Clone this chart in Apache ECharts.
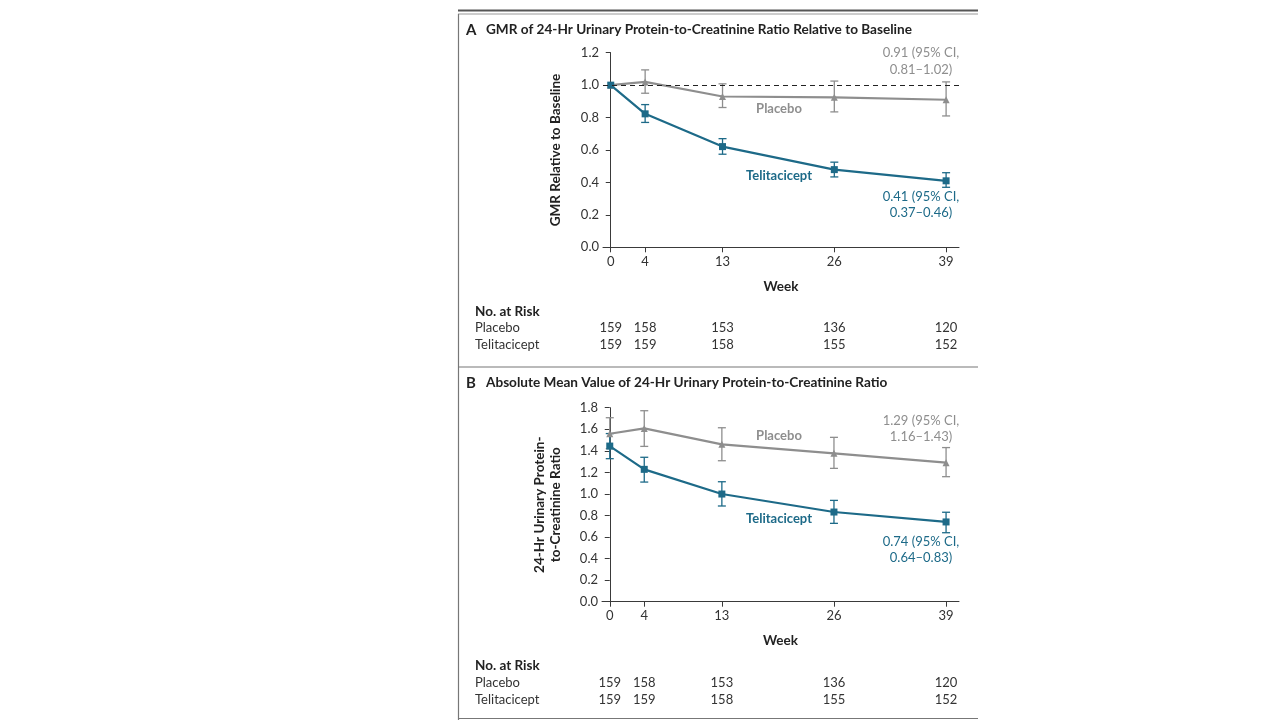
<!DOCTYPE html>
<html><head><meta charset="utf-8">
<script src="https://cdn.jsdelivr.net/npm/echarts@6/dist/echarts.min.js"></script>
<style>html,body{margin:0;padding:0;background:#fff}#c{width:1280px;height:720px}</style>
</head><body><div id="c"></div>
<script>
const weeks = [0, 4, 13, 26, 39];
// Panel A: GMR relative to baseline
const gmrPlacebo = [1.0, 1.02, 0.93, 0.925, 0.91];
const gmrPlaceboLo = [1.0, 0.95, 0.862, 0.835, 0.81];
const gmrPlaceboHi = [1.0, 1.094, 1.008, 1.025, 1.02];
const gmrTeli = [1.0, 0.823, 0.621, 0.479, 0.41];
const gmrTeliLo = [1.0, 0.77, 0.574, 0.434, 0.37];
const gmrTeliHi = [1.0, 0.88, 0.67, 0.525, 0.46];
// Panel B: absolute mean UPCR
const absPlacebo = [1.558, 1.608, 1.46, 1.377, 1.29];
const absPlaceboLo = [1.42, 1.441, 1.308, 1.237, 1.16];
const absPlaceboHi = [1.707, 1.772, 1.614, 1.525, 1.43];
const absTeli = [1.444, 1.228, 0.999, 0.832, 0.74];
const absTeliLo = [1.327, 1.11, 0.888, 0.727, 0.64];
const absTeliHi = [1.56, 1.34, 1.113, 0.94, 0.83];
// Number at risk
const riskPlacebo = [159, 158, 153, 136, 120];
const riskTeli = [159, 159, 158, 155, 152];

const TEAL = '#1d6a88';
const GRAY = '#8e8e8e';
const AXIS = '#3a3a3a';
const FONT = 'Lato';

const chart = echarts.init(document.getElementById('c'));

function pts(v) { return weeks.map((w, i) => [w, v[i]]); }
function ebData(lo, hi) { return weeks.map((w, i) => [w, lo[i], hi[i]]); }

function errSeries(gi, lo, hi, color) {
  return {
    type: 'custom', xAxisIndex: gi * 3, yAxisIndex: gi, z: 3,
    data: ebData(lo, hi),
    renderItem: function (params, api) {
      const x = api.value(0);
      const p1 = api.coord([x, api.value(1)]);
      const p2 = api.coord([x, api.value(2)]);
      if (Math.abs(p1[1] - p2[1]) < 0.5) return null;
      const w = 4;
      const st = { stroke: color, lineWidth: 1.3 };
      return {
        type: 'group', children: [
          { type: 'line', shape: { x1: p1[0], y1: p1[1], x2: p2[0], y2: p2[1] }, style: st },
          { type: 'line', shape: { x1: p1[0] - w, y1: p1[1], x2: p1[0] + w, y2: p1[1] }, style: st },
          { type: 'line', shape: { x1: p2[0] - w, y1: p2[1], x2: p2[0] + w, y2: p2[1] }, style: st }
        ]
      };
    }
  };
}

function lineSeries(gi, vals, color, symbol, size, extra) {
  return Object.assign({
    type: 'line', xAxisIndex: gi * 3, yAxisIndex: gi, z: 4,
    data: pts(vals), symbol: symbol, symbolSize: size, showSymbol: true,
    lineStyle: { color: color, width: 2.2 },
    itemStyle: { color: color },
    animation: false
  }, extra || {});
}

const XMIN = -0.9, XMAX = 40.5;

function mainX(gi) {
  return {
    type: 'value', gridIndex: gi, min: XMIN, max: XMAX,
    axisLine: { show: true, onZero: false, lineStyle: { color: AXIS, width: 1 } },
    axisTick: { show: true, customValues: weeks, length: 5, lineStyle: { color: AXIS } },
    axisLabel: { customValues: weeks, color: '#333', fontFamily: FONT, fontSize: 13, margin: 8 },
    splitLine: { show: false },
    name: 'Week', nameLocation: 'middle', nameGap: 32,
    nameTextStyle: { fontFamily: FONT, fontWeight: 'bold', fontSize: 13.5, color: '#222' }
  };
}
function riskX(gi, arr, off) {
  return {
    type: 'value', gridIndex: gi, min: XMIN, max: XMAX, position: 'bottom', offset: off,
    axisLine: { show: false }, axisTick: { show: false }, splitLine: { show: false },
    axisLabel: {
      customValues: weeks, margin: 0, color: '#333', fontFamily: FONT, fontSize: 13,
      formatter: function (v) { const i = weeks.indexOf(Math.round(v)); return i >= 0 ? String(arr[i]) : ''; }
    }
  };
}

function txt(x, y, s, opt) {
  return {
    type: 'text', x: x, y: y, silent: true,
    style: Object.assign({ text: s, fontFamily: FONT, fontSize: 13, fill: '#333', align: 'left', verticalAlign: 'middle' }, opt || {})
  };
}

const graphic = [
  { type: 'line', shape: { x1: 458, y1: 10.5, x2: 978, y2: 10.5 }, style: { stroke: '#555', lineWidth: 2 } },
  { type: 'line', shape: { x1: 458, y1: 14, x2: 978, y2: 14 }, style: { stroke: '#999', lineWidth: 1 } },
  { type: 'line', shape: { x1: 458.5, y1: 14, x2: 458.5, y2: 720 }, style: { stroke: '#777', lineWidth: 1.2 } },
  { type: 'line', shape: { x1: 458, y1: 367, x2: 978, y2: 367 }, style: { stroke: '#777', lineWidth: 1.2 } },
  { type: 'line', shape: { x1: 458, y1: 718.5, x2: 978, y2: 718.5 }, style: { stroke: '#777', lineWidth: 1.2 } },
  // Panel A
  txt(466, 30, 'A', { fontWeight: 'bold', fontSize: 15, fill: '#222' }),
  txt(486, 30, 'GMR of 24-Hr Urinary Protein-to-Creatinine Ratio Relative to Baseline', { fontWeight: 'bold', fontSize: 13.6, fill: '#222' }),
  txt(921, 53, '0.91 (95% CI,', { align: 'center', fill: GRAY }),
  txt(921, 70, '0.81\u20131.02)', { align: 'center', fill: GRAY }),
  txt(921, 197, '0.41 (95% CI,', { align: 'center', fill: TEAL }),
  txt(921, 213, '0.37\u20130.46)', { align: 'center', fill: TEAL }),
  txt(779, 109, 'Placebo', { align: 'center', fill: GRAY, fontWeight: 'bold' }),
  txt(779, 176, 'Telitacicept', { align: 'center', fill: TEAL, fontWeight: 'bold' }),
  txt(475, 312, 'No. at Risk', { fontWeight: 'bold', fontSize: 13.5, fill: '#222' }),
  txt(475, 328, 'Placebo'),
  txt(475, 345, 'Telitacicept'),
  // Panel B
  txt(466, 383, 'B', { fontWeight: 'bold', fontSize: 15, fill: '#222' }),
  txt(486, 383, 'Absolute Mean Value of 24-Hr Urinary Protein-to-Creatinine Ratio', { fontWeight: 'bold', fontSize: 13.6, fill: '#222' }),
  txt(921, 421, '1.29 (95% CI,', { align: 'center', fill: GRAY }),
  txt(921, 437, '1.16\u20131.43)', { align: 'center', fill: GRAY }),
  txt(921, 542, '0.74 (95% CI,', { align: 'center', fill: TEAL }),
  txt(921, 558, '0.64\u20130.83)', { align: 'center', fill: TEAL }),
  txt(779, 436, 'Placebo', { align: 'center', fill: GRAY, fontWeight: 'bold' }),
  txt(779, 519, 'Telitacicept', { align: 'center', fill: TEAL, fontWeight: 'bold' }),
  txt(475, 666, 'No. at Risk', { fontWeight: 'bold', fontSize: 13.5, fill: '#222' }),
  txt(475, 683, 'Placebo'),
  txt(475, 700, 'Telitacicept')
];

const option = {
  animation: false,
  backgroundColor: '#fff',
  grid: [
    { left: 603, right: 321, top: 52.7, bottom: 720 - 247.3, containLabel: false },
    { left: 602, right: 321, top: 407.7, bottom: 720 - 601.7, containLabel: false }
  ],
  xAxis: [
    mainX(0), riskX(0, riskPlacebo, 74.5), riskX(0, riskTeli, 91.5),
    mainX(1), riskX(1, riskPlacebo, 75), riskX(1, riskTeli, 92)
  ],
  yAxis: [
    {
      type: 'value', gridIndex: 0, min: 0, max: 1.2, interval: 0.2,
      axisLine: { show: true, lineStyle: { color: AXIS } },
      axisTick: { show: true, length: 5, lineStyle: { color: AXIS } },
      axisLabel: { color: '#333', fontFamily: FONT, fontSize: 13, margin: 4, formatter: v => v.toFixed(1) },
      splitLine: { show: false },
      name: 'GMR Relative to Baseline', nameLocation: 'middle', nameGap: 40, nameRotate: 90,
      nameTextStyle: { fontFamily: FONT, fontWeight: 'bold', fontSize: 13.5, color: '#222' }
    },
    {
      type: 'value', gridIndex: 1, min: 0, max: 1.8, interval: 0.2,
      axisLine: { show: true, lineStyle: { color: AXIS } },
      axisTick: { show: true, length: 5, lineStyle: { color: AXIS } },
      axisLabel: { color: '#333', fontFamily: FONT, fontSize: 13, margin: 4, formatter: v => v.toFixed(1) },
      splitLine: { show: false },
      name: '24-Hr Urinary Protein-\nto-Creatinine Ratio', nameLocation: 'middle', nameGap: 38, nameRotate: 90,
      nameTextStyle: { fontFamily: FONT, fontWeight: 'bold', fontSize: 13.5, color: '#222', lineHeight: 16 }
    }
  ],
  series: [
    errSeries(0, gmrPlaceboLo, gmrPlaceboHi, GRAY),
    errSeries(0, gmrTeliLo, gmrTeliHi, TEAL),
    lineSeries(0, gmrPlacebo, GRAY, 'triangle', 7, {
      markLine: {
        silent: true, symbol: 'none', label: { show: false },
        lineStyle: { color: '#222', type: [5, 4], width: 1.2 },
        data: [{ yAxis: 1.0 }]
      }
    }),
    lineSeries(0, gmrTeli, TEAL, 'rect', 7),
    errSeries(1, absPlaceboLo, absPlaceboHi, GRAY),
    errSeries(1, absTeliLo, absTeliHi, TEAL),
    lineSeries(1, absPlacebo, GRAY, 'triangle', 7),
    lineSeries(1, absTeli, TEAL, 'rect', 7)
  ],
  graphic: graphic
};
chart.setOption(option);
</script></body></html>
